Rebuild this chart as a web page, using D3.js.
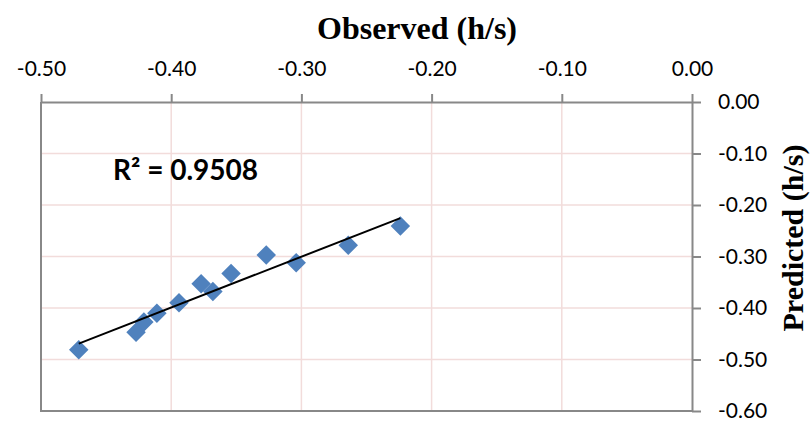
<!DOCTYPE html>
<html>
<head>
<meta charset="utf-8">
<script src="https://cdn.jsdelivr.net/npm/d3@7"></script>
<style>
  html, body { margin: 0; padding: 0; background: #ffffff; }
  svg { display: block; }
</style>
</head>
<body>
<svg id="chart" width="810" height="422"></svg>
<script>
// Observed vs. predicted values (h/s)
const observed  = [-0.471, -0.427, -0.421, -0.411, -0.394, -0.377, -0.368, -0.354, -0.327, -0.304, -0.264, -0.224];
const predicted = [-0.481, -0.447, -0.427, -0.410, -0.390, -0.353, -0.368, -0.333, -0.297, -0.312, -0.278, -0.241];
const xTicks = [-0.5, -0.4, -0.3, -0.2, -0.1, 0.0];
const yTicks = [0.0, -0.1, -0.2, -0.3, -0.4, -0.5, -0.6];
const xTitle = "Observed (h/s)";
const yTitle = "Predicted (h/s)";
const r2Label = "R\u00B2 = 0.9508";

const svg = d3.select("#chart");
const plot = { left: 41, right: 692, top: 102, bottom: 411 };

const x = d3.scaleLinear().domain([-0.5, 0]).range([plot.left, plot.right]);
const y = d3.scaleLinear().domain([-0.6, 0]).range([plot.bottom, plot.top]);

const gridColor = "#f2dcdb";
const axisColor = "#888888";
const fmt = d => d3.format(".2f")(d).replace("\u2212", "-");

// gridlines
const grid = svg.append("g");
grid.selectAll("line.gx").data(xTicks.slice(1, -1)).join("line")
  .attr("x1", d => x(d)).attr("x2", d => x(d))
  .attr("y1", plot.top).attr("y2", plot.bottom)
  .attr("stroke", gridColor).attr("stroke-width", 1.5);
grid.selectAll("line.gy").data(yTicks.slice(1, -1)).join("line")
  .attr("x1", plot.left).attr("x2", plot.right)
  .attr("y1", d => y(d)).attr("y2", d => y(d))
  .attr("stroke", gridColor).attr("stroke-width", 1.5);

// left and bottom border of the plot area
svg.append("path")
  .attr("d", `M${plot.left},${plot.top}V${plot.bottom}H${plot.right}`)
  .attr("fill", "none").attr("stroke", axisColor).attr("stroke-width", 2);

// top axis (x)
const gx = svg.append("g")
  .attr("transform", `translate(0,${plot.top})`)
  .call(d3.axisTop(x).tickValues(xTicks).tickFormat(fmt)
    .tickSizeInner(8).tickSizeOuter(0).tickPadding(18));

// right axis (y)
const gy = svg.append("g")
  .attr("transform", `translate(${plot.right},0)`)
  .call(d3.axisRight(y).tickValues(yTicks).tickFormat(fmt)
    .tickSizeInner(9).tickSizeOuter(0).tickPadding(17));

[gx, gy].forEach(g => {
  g.select(".domain").attr("stroke", axisColor).attr("stroke-width", 2);
  g.selectAll(".tick line").attr("stroke", axisColor).attr("stroke-width", 2);
  g.selectAll(".tick text")
    .attr("fill", "#000")
    .style("font-family", "Lato, 'Open Sans', sans-serif")
    .style("font-size", "21px");
});
gy.selectAll(".tick text").attr("text-anchor", "start");

// diamond markers
const n = observed.length;
const diamond = d3.symbol().type(d3.symbolSquare).size(190);
svg.append("g").selectAll("path").data(d3.range(n)).join("path")
  .attr("d", diamond)
  .attr("transform", i => `translate(${x(observed[i])},${y(predicted[i])}) rotate(45)`)
  .attr("fill", "#4f81bd");

// least-squares trendline, drawn over the markers
const mx = d3.mean(observed), my = d3.mean(predicted);
let sxy = 0, sxx = 0;
for (let i = 0; i < n; i++) {
  sxy += (observed[i] - mx) * (predicted[i] - my);
  sxx += (observed[i] - mx) ** 2;
}
const slope = sxy / sxx;
const intercept = my - slope * mx;
const [x0, x1] = d3.extent(observed);
svg.append("line")
  .attr("x1", x(x0)).attr("y1", y(slope * x0 + intercept))
  .attr("x2", x(x1)).attr("y2", y(slope * x1 + intercept))
  .attr("stroke", "#000").attr("stroke-width", 2);

// R² annotation
svg.append("text")
  .attr("x", 113).attr("y", 180)
  .style("font-family", "Lato, 'Open Sans', sans-serif")
  .style("font-size", "28px").style("font-weight", "bold")
  .attr("fill", "#000")
  .text(r2Label);

// axis titles
svg.append("text")
  .attr("x", 417).attr("y", 39)
  .attr("text-anchor", "middle")
  .style("font-family", "'Liberation Serif', 'Times New Roman', serif")
  .style("font-size", "32px").style("font-weight", "bold")
  .attr("fill", "#000")
  .text(xTitle);

svg.append("text")
  .attr("transform", `translate(803,238) rotate(-90)`)
  .attr("text-anchor", "middle")
  .style("font-family", "'Liberation Serif', 'Times New Roman', serif")
  .style("font-size", "30px").style("font-weight", "bold")
  .attr("fill", "#000")
  .text(yTitle);
</script>
</body>
</html>
